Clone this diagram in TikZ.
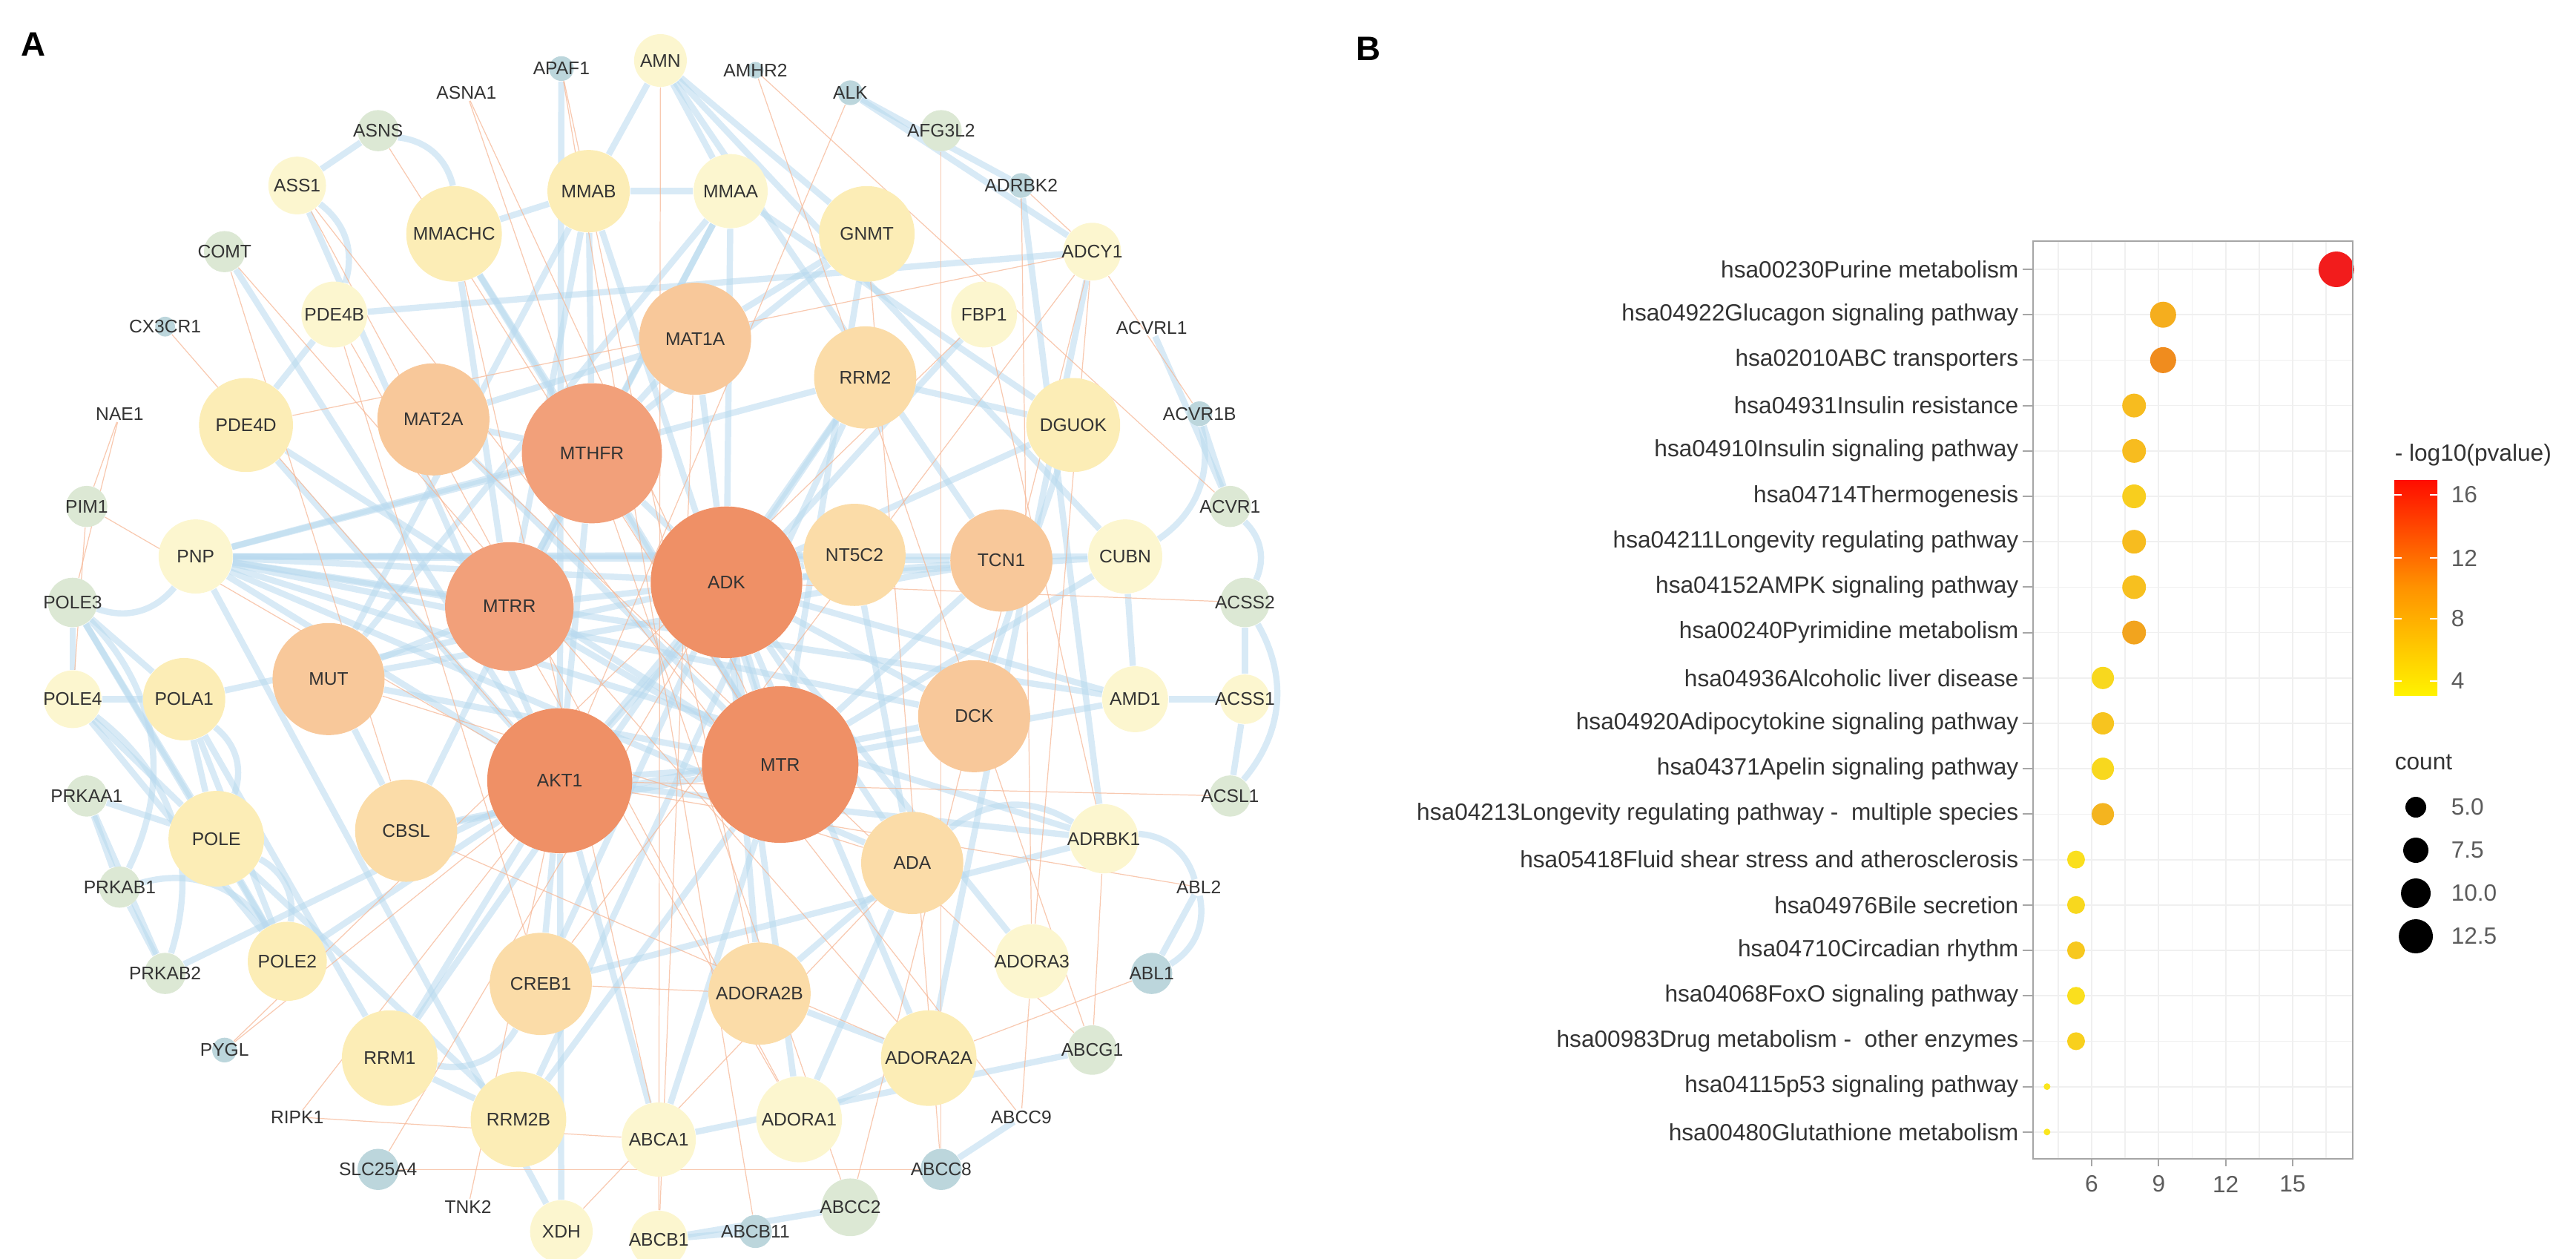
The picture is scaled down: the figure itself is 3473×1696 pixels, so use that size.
\documentclass[tikz,border=0pt]{standalone}
\usepackage{fontspec}
\setmainfont{Liberation Sans}
\usetikzlibrary{backgrounds}
\definecolor{cOr}{HTML}{F2A07A}\definecolor{cOrD}{HTML}{EF9066}
\definecolor{cPe}{HTML}{F8C89A}\definecolor{cLp}{HTML}{FBDCA8}
\definecolor{cYe}{HTML}{FCEDB6}\definecolor{cLy}{HTML}{FCF6CF}
\definecolor{cGr}{HTML}{DCE8D4}\definecolor{cTe}{HTML}{BCD6DC}
\definecolor{cBE}{HTML}{B8D9EE}\definecolor{cOE}{HTML}{F6B796}
\definecolor{txt}{HTML}{333333}
\tikzset{
 gnode/.style={circle,draw=none,inner sep=0pt},
 glab/.style={text=txt,font=\fontsize{7}{8}\selectfont,inner sep=0pt},
 be/.style={draw=cBE,line width=2.4pt,opacity=0.55},
 oe/.style={draw=cOE,line width=0.35pt,opacity=0.75},
 lab/.style={font=\fontsize{9}{10}\selectfont,text=txt,anchor=east,inner sep=0pt},
 tk/.style={font=\fontsize{9}{10}\selectfont,text=txt!80,inner sep=0pt},
 grd/.style={draw=gray!12,line width=0.5pt},
}
\newcommand\gn[5]{\node[gnode,fill=#4,minimum size=#5*0.0222cm,label={[glab]center:#1}] (#1) at (#2,#3) {};}
\begin{document}
\begin{tikzpicture}[x=0.01cm,y=-0.01cm]
\useasboundingbox (0,0) rectangle (3473,1696);
\node[font=\bfseries\fontsize{13}{14}\selectfont,inner sep=0pt] (pA) at (45,60) {A};
\node[font=\bfseries\fontsize{13}{14}\selectfont,inner sep=0pt] (pB) at (1845,66) {B};
\begin{scope}[x=0.01113cm,y=-0.01087cm]
\gn{AMN}{800}{75}{cLy}{32}
\gn{APAF1}{680}{85}{cTe}{15}
\gn{AMHR2}{915}{87}{cTe}{10}
\gn{ASNA1}{565}{115}{white}{10}
\gn{ALK}{1030}{115}{cTe}{15}
\gn{ASNS}{458}{162}{cGr}{25}
\gn{AFG3L2}{1140}{162}{cGr}{25}
\gn{ASS1}{360}{230}{cLy}{35}
\gn{MMAB}{713}{237}{cYe}{50}
\gn{MMAA}{885}{237}{cLy}{45}
\gn{ADRBK2}{1237}{230}{cTe}{15}
\gn{MMACHC}{550}{290}{cYe}{58}
\gn{GNMT}{1050}{290}{cYe}{58}
\gn{COMT}{272}{312}{cGr}{25}
\gn{ADCY1}{1323}{312}{cLy}{35}
\gn{PDE4B}{405}{390}{cLy}{40}
\gn{FBP1}{1192}{390}{cLy}{40}
\gn{CX3CR1}{200}{405}{cTe}{12}
\gn{ACVRL1}{1395}{407}{white}{10}
\gn{MAT1A}{842}{420}{cPe}{68}
\gn{RRM2}{1048}{468}{cLp}{62}
\gn{NAE1}{145}{513}{white}{10}
\gn{PDE4D}{298}{527}{cYe}{57}
\gn{MAT2A}{525}{520}{cPe}{68}
\gn{MTHFR}{717}{562}{cOr}{85}
\gn{DGUOK}{1300}{527}{cYe}{57}
\gn{ACVR1B}{1453}{513}{cTe}{15}
\gn{PIM1}{105}{628}{cGr}{25}
\gn{ACVR1}{1490}{628}{cGr}{25}
\gn{PNP}{237}{690}{cLy}{45}
\gn{NT5C2}{1035}{688}{cLp}{62}
\gn{ADK}{880}{722}{cOrD}{92}
\gn{TCN1}{1213}{695}{cPe}{62}
\gn{CUBN}{1363}{690}{cLy}{45}
\gn{POLE3}{88}{747}{cGr}{30}
\gn{MTRR}{617}{752}{cOr}{78}
\gn{ACSS2}{1508}{747}{cGr}{30}
\gn{MUT}{398}{842}{cPe}{68}
\gn{POLA1}{223}{867}{cYe}{50}
\gn{POLE4}{88}{867}{cLy}{35}
\gn{AMD1}{1375}{867}{cLy}{40}
\gn{ACSS1}{1508}{867}{cLy}{30}
\gn{DCK}{1180}{888}{cPe}{68}
\gn{AKT1}{678}{968}{cOrD}{88}
\gn{MTR}{945}{948}{cOrD}{95}
\gn{PRKAA1}{105}{987}{cGr}{25}
\gn{ACSL1}{1490}{987}{cGr}{25}
\gn{CBSL}{492}{1030}{cLp}{62}
\gn{POLE}{262}{1040}{cYe}{58}
\gn{ADRBK1}{1337}{1040}{cLy}{42}
\gn{ADA}{1105}{1070}{cLp}{62}
\gn{PRKAB1}{145}{1100}{cGr}{25}
\gn{ABL2}{1452}{1100}{white}{10}
\gn{POLE2}{348}{1192}{cYe}{48}
\gn{CREB1}{655}{1220}{cLp}{62}
\gn{ADORA2B}{920}{1232}{cLp}{62}
\gn{ADORA3}{1250}{1192}{cLy}{45}
\gn{ABL1}{1395}{1207}{cTe}{25}
\gn{PRKAB2}{200}{1207}{cGr}{25}
\gn{PYGL}{272}{1302}{cTe}{15}
\gn{RRM1}{472}{1312}{cYe}{58}
\gn{ADORA2A}{1125}{1312}{cYe}{58}
\gn{ABCG1}{1323}{1302}{cGr}{30}
\gn{RIPK1}{360}{1385}{white}{10}
\gn{RRM2B}{628}{1388}{cYe}{58}
\gn{ABCA1}{798}{1413}{cLy}{45}
\gn{ADORA1}{968}{1388}{cLy}{52}
\gn{ABCC9}{1237}{1385}{white}{10}
\gn{SLC25A4}{458}{1450}{cTe}{25}
\gn{ABCC8}{1140}{1450}{cTe}{25}
\gn{TNK2}{567}{1497}{white}{10}
\gn{ABCC2}{1030}{1497}{cGr}{35}
\gn{XDH}{680}{1527}{cLy}{38}
\gn{ABCB1}{798}{1537}{cLy}{35}
\gn{ABCB11}{915}{1527}{cTe}{20}
\end{scope}
\begin{scope}[on background layer]
\foreach \a/\b in {ADK/MTR,ADK/AKT1,ADK/MTHFR,ADK/MTRR,ADK/NT5C2,ADK/TCN1,ADK/DCK,ADK/ADA,ADK/PNP,ADK/MAT1A,ADK/MMAA,ADK/CUBN,ADK/AMD1,ADK/RRM2,ADK/CREB1,ADK/ADORA2B,ADK/ADORA1,ADK/ADORA2A,ADK/ADORA3,ADK/DGUOK,MTR/AKT1,MTR/MTRR,MTR/MTHFR,MTR/MMACHC,MTR/MMAB,MTR/MUT,MTR/CBSL,MTR/TCN1,MTR/CUBN,MTR/AMD1,MTR/GNMT,MTR/MAT2A,MTR/ABCA1,MTR/RRM2B,AKT1/CREB1,AKT1/MTHFR,AKT1/PNP,AKT1/RRM1,AKT1/POLE2,AKT1/XDH,AKT1/ABCA1,AKT1/ADRBK1,AKT1/PDE4D,AKT1/ASS1,AKT1/COMT,MTHFR/MMAB,MTHFR/MMAA,MTHFR/MAT2A,MTHFR/MAT1A,MTHFR/PNP,MTHFR/MTRR,MTHFR/CBSL,MTHFR/MMACHC,MTHFR/GNMT,MTRR/MMACHC,MTRR/MUT,MTRR/PNP,MTRR/MMAA,MTRR/MMAB,PNP/NT5C2,PNP/TCN1,PNP/CUBN,PNP/DCK,PNP/ADA,PNP/XDH,PNP/RRM2,MMAA/MUT,MMAB/MUT,MMAB/AMN,MMAA/AMN,AMN/CUBN,AMN/TCN1,POLE/POLA1,POLE/POLE2,POLE/POLE3,POLE/POLE4,POLA1/POLE3,POLA1/POLE4,POLA1/POLE2,POLE2/POLE3,POLE2/POLE4,POLA1/RRM1,POLE/RRM2B,POLE/PRKAA1,PRKAA1/PRKAB1,PRKAB1/PRKAB2,PRKAA1/PRKAB2,PRKAB2/AKT1,RRM1/RRM2,RRM1/RRM2B,RRM2/RRM2B,DCK/DGUOK,ADA/ADORA1,ADA/ADORA2B,ADORA2A/ADORA2B,ADORA1/ADORA2A,ABCA1/ABCG1,ABCC8/ABCC9,ABCB1/ABCB11,ABCC2/ABCB1,ADRBK1/ADRBK2,ADCY1/ADORA2A,ACSS1/ACSS2,ACSL1/ACSS1,ACVR1/ACVR1B,ACVR1/ACVRL1,ALK/ADRBK2,ABL1/ABL2,APAF1/AKT1,ASNS/ASS1,FBP1/AKT1,PDE4D/PDE4B,PDE4B/ADCY1,DGUOK/RRM2,NT5C2/ADA,CUBN/AMD1,GNMT/MAT1A,MAT1A/MAT2A,MMACHC/MMAB,MMAB/MMAA,CBSL/MUT,CREB1/ADRBK1,AMD1/ACSS1,POLE3/POLE4,ALK/ADCY1,AMN/GNMT,MMAA/DGUOK,PDE4D/MTR,PNP/AMD1,PNP/ADRBK1,POLA1/ADK,MUT/TCN1,CBSL/DCK}
 \draw[be] (\a) -- (\b);
\foreach \a/\b in {POLE/POLE2,POLA1/POLE,PRKAB1/POLE2,ACVR1/ACSS2,ACVR1B/CUBN,ABL2/ABL1,ADRBK1/ABL2,ASNS/MMACHC,ASS1/PDE4B,PNP/POLE3,POLE3/PRKAB1,POLE4/PRKAB2,ACSS2/ACSL1,ADA/ADRBK1,CREB1/RRM1}
 \draw[be] (\a) to[bend left=35] (\b);
\foreach \a/\b in {ASNA1/ABCC2,ASNA1/MTR,AMHR2/ACVR1,NAE1/POLE3,PIM1/AKT1,RIPK1/AKT1,TNK2/AKT1,PYGL/FBP1,COMT/ADORA2A,CX3CR1/AKT1,PDE4B/ADORA1,PDE4D/ADCY1,ASS1/ADORA1,AFG3L2/ABCC8,SLC25A4/ADK,ABCC9/ADORA3,ADRBK2/ADORA3,ADCY1/ABCC2,ACSL1/AKT1,ACSS2/ADK,ABL2/AKT1,ABL1/ADORA2A,ABCG1/ADRBK1,XDH/ADA,ADORA2B/CREB1,CREB1/ADCY1,ASNS/MTR,AMN/ABCB1,PIM1/POLE4,MMACHC/ABCA1,GNMT/ABCC8,APAF1/ABCB11,ALK/AKT1,CBSL/ADORA2A,MUT/ADA,FBP1/ADRBK1,ACVR1B/ADCY1,MAT1A/ABCB1,MAT2A/ABCG1,COMT/CBSL,PDE4B/CREB1,ADCY1/ADORA3,NAE1/PIM1,RIPK1/ABCA1,PYGL/AKT1,SLC25A4/ABCC8,ASS1/ABCC9,APAF1/ADORA2B,AMHR2/ABCG1,ADRBK2/ADCY1}
 \draw[oe] (\a) -- (\b);
\end{scope}
% Panel B
\foreach \v in {4.5,6,7.5,9,10.5,12,13.5,15,16.5}
 \draw[grd] ({2820+(\v-6)*30.1},325) -- ({2820+(\v-6)*30.1},1562);
\foreach \i in {0,...,19} \draw[grd] (2741,{363+\i*61.2}) -- (3172,{363+\i*61.2});
\definecolor{d0}{HTML}{F21C1C}\definecolor{d1}{HTML}{F5AE1E}\definecolor{d2}{HTML}{F08C1E}
\definecolor{d3}{HTML}{F7BC1F}\definecolor{d5}{HTML}{F8CE1E}\definecolor{d7}{HTML}{F7C01F}
\definecolor{d8}{HTML}{F2A41E}\definecolor{d9}{HTML}{F8D81E}\definecolor{d10}{HTML}{F7C41F}
\definecolor{d12}{HTML}{F4B41F}\definecolor{d13}{HTML}{FADF1E}\definecolor{d15}{HTML}{F7C81F}
\definecolor{d17}{HTML}{F8D01E}\definecolor{d18}{HTML}{FAE61E}
\foreach \i/\v/\r/\c/\t in {0/16.96/24/d0/hsa00230Purine metabolism,1/9.2/17.5/d1/hsa04922Glucagon signaling pathway,2/9.2/17.5/d2/hsa02010ABC transporters,3/7.9/16/d3/hsa04931Insulin resistance,4/7.9/16/d3/hsa04910Insulin signaling pathway,5/7.9/16/d5/hsa04714Thermogenesis,6/7.9/16/d3/hsa04211Longevity regulating pathway,7/7.9/16/d7/hsa04152AMPK signaling pathway,8/7.9/16/d8/hsa00240Pyrimidine metabolism,9/6.5/15/d9/hsa04936Alcoholic liver disease,10/6.5/15/d10/hsa04920Adipocytokine signaling pathway,11/6.5/15/d9/hsa04371Apelin signaling pathway,12/6.5/15/d12/{hsa04213Longevity regulating pathway -~ multiple species},13/5.3/12/d13/hsa05418Fluid shear stress and atherosclerosis,14/5.3/12/d9/hsa04976Bile secretion,15/5.3/12/d15/hsa04710Circadian rhythm,16/5.3/12/d13/hsa04068FoxO signaling pathway,17/5.3/12/d17/hsa00983Drug metabolism -~ other enzymes,18/4.0/4.5/d18/hsa04115p53 signaling pathway,19/4.0/4.5/d18/hsa00480Glutathione metabolism}
{
 \node[lab] (r\i) at (2722,{363+\i*61.2}) {\t};
 \coordinate (t\i) at (2741,{363+\i*61.2});
 \draw[gray!70,line width=0.6pt] (r\i.east) ++(5,0) -- (t\i);
 \fill[\c] ({2820+(\v-6)*30.1},{363+\i*61.2}) circle (\r);
}
\draw[gray!70,line width=0.8pt] (2741,325) rectangle (3172,1562);
\foreach \v in {6,9,12,15}{
 \draw[gray!70,line width=0.6pt] ({2820+(\v-6)*30.1},1562) -- ({2820+(\v-6)*30.1},1572);
 \node[tk] (x\v) at ({2820+(\v-6)*30.1},1596) {\v};}
% legends
\node[tk,anchor=west,text=txt] (lt) at (3228,613) {- log10(pvalue)};
\shade[bottom color=yellow!90!orange,top color=red!90!orange,middle color=orange!85!yellow] (3228,647) rectangle (3286,937);
\foreach \y/\t in {667/16,752/12,834/8,918/4}{
 \draw[white,line width=0.6pt] (3228,\y) -- (3238,\y) (3276,\y) -- (3286,\y);
 \node[tk,anchor=west] at (3304,\y) {\t};}
\node[tk,anchor=west,text=txt] (lc) at (3228,1027) {count};
\foreach \y/\r/\t in {1088/14/5.0,1146/17/7.5,1204/20/10.0,1262/23/12.5}{
 \fill[black] (3257,\y) circle (\r);
 \node[tk,anchor=west] at (3304,\y) {\t};}
\end{tikzpicture}
\end{document}
